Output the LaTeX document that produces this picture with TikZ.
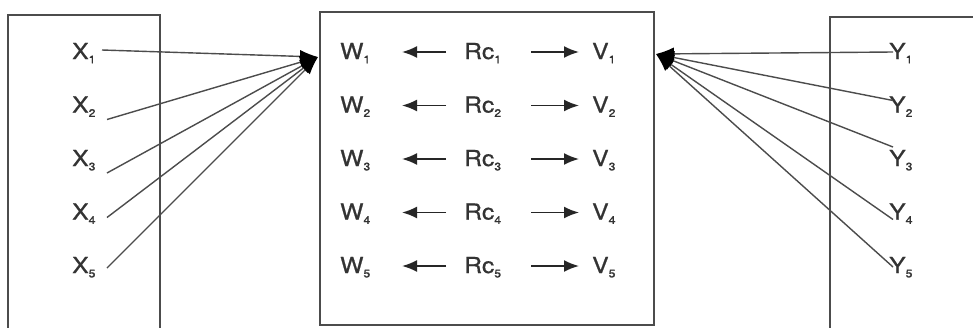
\documentclass[tikz,border=0pt]{standalone}
\usepackage{fontspec}
\setmainfont[FakeBold=0.8,FakeStretch=1.12]{TeX Gyre Heros}
\usetikzlibrary{arrows.meta}
% lowered index digit
\newcommand\lowidx[1]{\raisebox{-0.2em}{\fontsize{11}{11}\selectfont #1}}
\begin{document}
\begin{tikzpicture}[x=1pt,y=-1pt,
  lbl/.style={anchor=base west, inner sep=0pt, text height=14pt, text depth=0pt,
              font=\fontsize{22}{24}\selectfont, text=black!80},
  frame/.style={draw=black!70, line width=1.5pt},
  link/.style={draw=black!70, line width=1.4pt,
               -{Latex[length=18pt,width=13pt,color=black]}},
  rowarrow/.style={draw=black!85, line width=1.8pt, -{Latex[length=15pt,width=12pt]}},
  ]
\useasboundingbox (0,0) rectangle (973,327);
\fill[white] (0,0) rectangle (973,327);

% the three frames; left and right ones run past the bottom/right edge
\begin{scope}
  \clip (0,0) rectangle (973,327);
  \draw[frame] (8,340) -- (8,15) -- (160,15) -- (160,340);
  \draw[frame] (320,12) rectangle (654,325);
  \draw[frame] (990,17) -- (830,17) -- (830,340);
\end{scope}

% junction points on the middle frame
\coordinate (inL) at (318,57);
\coordinate (inR) at (656,54);

% labels, one row per index
\foreach \i/\yb in {1/59,2/112.5,3/166,4/219.5,5/273}{
  \node[lbl] (x\i)  at (72,\yb)  {X\lowidx{\i}};
  \node[lbl] (w\i)  at (340,\yb) {W\lowidx{\i}};
  \node[lbl] (rc\i) at (464,\yb) {Rc\lowidx{\i}};
  \node[lbl] (v\i)  at (592,\yb) {V\lowidx{\i}};
  \node[lbl] (y\i)  at (889,\yb) {Y\lowidx{\i}};
  \draw[rowarrow] ([xshift=-18pt]rc\i.west) -- ([xshift=62pt]w\i.west);
  \draw[rowarrow] ([xshift=67pt]rc\i.west) -- ([xshift=-13pt]v\i.west);
}

% converging links from the X column
\draw[link] ([xshift=30pt,yshift=2pt]x1.west)   -- (inL);
\draw[link] ([xshift=35pt,yshift=-14pt]x2.west) -- (inL);
\draw[link] ([xshift=35pt,yshift=-14pt]x3.west) -- (inL);
\draw[link] ([xshift=35pt,yshift=-5pt]x4.west)  -- (inL);
\draw[link] ([xshift=35pt,yshift=-2pt]x5.west)  -- (inL);

% converging links from the Y column
\draw[link] ([xshift=4pt]y1.west)               -- (inR);
\draw[link] ([xshift=4pt,yshift=5pt]y2.west)    -- (inR);
\draw[link] ([xshift=4pt,yshift=12pt]y3.west)   -- (inR);
\draw[link] ([xshift=4pt,yshift=-7pt]y4.west)   -- (inR);
\draw[link] ([xshift=4pt,yshift=-1pt]y5.west)   -- (inR);
\end{tikzpicture}
\end{document}
